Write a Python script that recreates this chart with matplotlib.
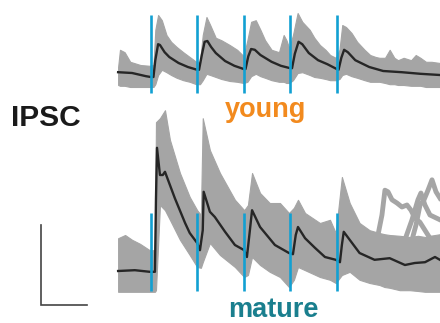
"""
Paired-pulse style IPSC traces (young vs mature) with stimulus markers.
"""
import matplotlib
matplotlib.use("Agg")
from matplotlib import pyplot as plt

# stimulus times (ms)
stim_times = [0, 50, 100, 150, 200]

# ---- young: gray band of single sweeps (pA) and the average ----
young_t = [-35, -33, -28, -22, -11, -1, 3, 5, 8, 12, 17, 22, 28, 35, 42, 49,
           53, 56, 60, 64, 70, 76, 85, 93, 100, 104, 108, 113, 118, 123, 130,
           138, 143, 146, 149, 153, 158, 163, 171, 176, 182, 188, 193, 199,
           203, 206, 210, 216, 222, 230, 236, 242, 246, 252, 257, 262, 266,
           272, 280, 285, 290, 296, 302, 311]
young_hi = [15, 58, 52, 28, 20, 18, 20, 108, 145, 132, 95, 78, 65, 52, 40, 28,
            28, 95, 140, 120, 88, 82, 70, 58, 42, 82, 128, 132, 108, 82, 58,
            52, 95, 82, 62, 95, 150, 128, 108, 88, 70, 58, 45, 38,
            58, 120, 115, 100, 78, 58, 45, 40, 38, 38, 58, 38, 32,
            38, 32, 45, 38, 28, 28, 25]
young_lo = [-30, -32, -32, -35, -35, -35, -35, -28, -5, 8, 2, -5, -12, -18, -22, -28,
            -28, -18, -2, -5, -10, -15, -20, -22, -25, -22, -8, -2, -8, -12, -18,
            -22, -22, -25, -25, -18, 0, 2, -5, -10, -12, -15, -18, -18,
            -15, -5, -2, -8, -12, -18, -22, -22, -22, -25, -28, -28, -30,
            -30, -32, -32, -32, -35, -35, -35]
young_mean_t = [-35, -20, -5, 0, 3, 5, 8, 10, 15, 20, 30, 40, 50, 52, 55, 58,
                61, 65, 70, 80, 90, 100, 102, 105, 108, 112, 118, 130, 140,
                150, 152, 155, 159, 163, 170, 180, 190, 200, 202, 205, 208,
                212, 220, 235, 250, 270, 290, 311]
young_mean = [2, 0, -8, -10, -10, 32, 72, 70, 52, 40, 25, 15, 8, 8, 45, 78,
              80, 65, 50, 30, 18, 10, 10, 42, 60, 58, 45, 28, 18,
              12, 12, 48, 78, 72, 50, 32, 22, 10, 8, 38, 58,
              52, 32, 15, 5, 2, -2, -5]

# ---- mature ----
mature_t = [-35, -27.5, -20, -11.5, -1, 4.6, 5.7, 10, 15.4, 20.7, 31.5, 42, 50,
            54, 56, 63.7, 74.5, 90.6, 100.6, 104.6, 109, 117.6, 128, 139,
            148.7, 154, 158.4, 166, 182, 192.8, 199, 205.6, 214, 224.6,
            235.4, 246, 251.4, 257, 267.8, 278.7, 287.4, 295, 300.3, 305.7, 311]
mature_hi = [82, 90, 78, 68, 52, 52, 372, 382, 402, 328, 245, 185, 152,
             140, 382, 302, 245, 178, 152, 165, 245, 195, 170, 170,
             145, 158, 178, 145, 120, 128, 95, 235, 170, 120,
             102, 95, 92, 90, 88, 85, 88, 85, 88, 90, 92]
mature_lo = [-52, -52, -52, -52, -52, -52, -48, 165, 152, 128, 78, 40, 10,
             8, 22, 70, 40, 10, -15, -10, 35, 15, -2, -15,
             -40, -22, 10, 2, -15, -22, -30, -10, -2, -22,
             -30, -35, -40, -42, -48, -48, -50, -52, -52, -52, -52]
mature_mean_t = [-35, -17, -1, 4.6, 5.7, 6.8, 10, 13, 15.4, 26, 37, 42, 50, 53,
                 56, 57, 63.7, 69, 80, 90.6, 100.6, 103.5, 106.7, 109, 117.6,
                 133.6, 148.7, 153, 156, 158.4, 166, 176.6, 187.4, 199, 203.5,
                 205.6, 207.6, 214, 224.6, 240.7, 257, 273.4, 284, 295, 305.7, 311]
mature_mean = [0, 2, -2, -2, 178, 308, 240, 240, 248, 182, 120, 95, 70, 52,
               102, 198, 148, 135, 98, 65, 52, 35, 102, 152, 110,
               65, 45, 42, 90, 110, 82, 58, 35, 28, 22,
               65, 98, 78, 45, 28, 32, 15, 20, 22, 35, 28]

# single mature sweeps with late spontaneous events
sweep_a_t = [244.4, 248.7, 251.9, 255.2, 259.5, 264.8, 270.2, 275.6, 279.9,
             284.2, 289.5, 294.9, 300.3, 305.7, 311.1]
sweep_a = [90, 140, 202, 198, 178, 170, 160, 165, 152, 132, 122, 102, 82, 78, 78]
sweep_b_t = [281, 285.3, 289.6, 293.9, 298.2, 302.5, 306.8, 311.1]
sweep_b = [78, 115, 165, 178, 202, 228, 198, 182]
sweep_c_t = [273.4, 281, 287.4, 290.6, 294.9, 300.3, 311.1]
sweep_c = [78, 128, 178, 195, 165, 140, 128]

# scale bar: 50 ms, 200 pA
bar_ms = 50
bar_pA = 200

gray = '#a5a5a5'
blue = '#12a0d2'

fig = plt.figure(figsize=(4.4, 3.23), dpi=100)
ax = fig.add_axes([0, 0, 1, 1])
ax.set_xlim(-162.0, 311.1)
ax.set_ylim(0, 807.5)
ax.axis('off')

young_base, mature_base = 625, 130

for (t, hi, lo, mt, m, base) in [
        (young_t, young_hi, young_lo, young_mean_t, young_mean, young_base),
        (mature_t, mature_hi, mature_lo, mature_mean_t, mature_mean, mature_base)]:
    ax.fill_between(t, [base + v for v in lo], [base + v for v in hi],
                    color=gray, linewidth=0.8, edgecolor=gray, zorder=1)
    ax.plot(mt, [base + v for v in m], color='#262626', lw=1.7, zorder=2)
    for s in stim_times:
        ax.plot([s, s], [base - 50, base + 145], color=blue, lw=1.9,
                solid_capstyle='butt', zorder=3)

for st, sv in [(sweep_a_t, sweep_a), (sweep_b_t, sweep_b), (sweep_c_t, sweep_c)]:
    ax.plot(st, [mature_base + v for v in sv], color=gray, lw=3.5, zorder=1)

# scale bar
x0, y0 = -118, 45
ax.plot([x0, x0, x0 + bar_ms], [y0 + bar_pA, y0, y0], color='#444444',
        lw=1.2, solid_joinstyle='miter')

ax.text(0.024, 0.611, 'IPSC', transform=ax.transAxes, ha='left',
        va='baseline', fontsize=21.5, fontweight='bold',
        family='Liberation Sans', color='#1a1a1a')
ax.text(0.6034, 0.6387, 'young', transform=ax.transAxes, ha='center',
        va='baseline', fontsize=19.5, fontweight='bold',
        family='Liberation Sans', color='#f28a1e')
ax.text(0.6212, 0.02, 'mature', transform=ax.transAxes, ha='center',
        va='baseline', fontsize=19.5, fontweight='bold',
        family='Liberation Sans', color='#1a7f8e')

fig.savefig('out.png', dpi=100)
